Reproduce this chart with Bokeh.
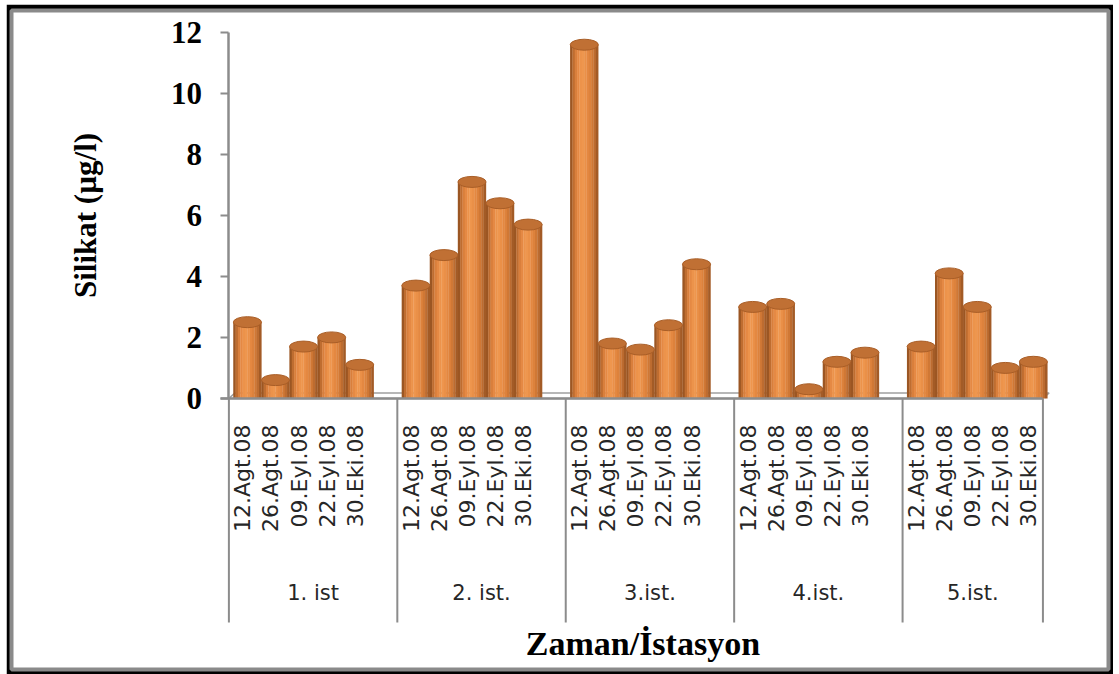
import math

from bokeh.core.properties import value
from bokeh.embed import file_html
from bokeh.models import FixedTicker, LinearAxis, Range1d
from bokeh.plotting import figure
from bokeh.resources import INLINE

# --- data -------------------------------------------------------------
stations = ["1. ist", "2. ist.", "3.ist.", "4.ist.", "5.ist."]
dates = ["12.Agt.08", "26.Agt.08", "09.Eyl.08", "22.Eyl.08", "30.Eki.08"]
ist1 = [2.5, 0.6, 1.7, 2.0, 1.1]
ist2 = [3.7, 4.7, 7.1, 6.4, 5.7]
ist3 = [11.6, 1.8, 1.6, 2.4, 4.4]
ist4 = [3.0, 3.1, 0.3, 1.2, 1.5]
ist5 = [1.7, 4.1, 3.0, 1.0, 1.2]
y_ticks = [0, 2, 4, 6, 8, 10, 12]

series = [ist1, ist2, ist3, ist4, ist5]

# --- slot layout: one slot per date, every station block but the last
# closes with an empty slot ---------------------------------------------
tick_pos, tick_lab, group_mid, group_edges = [], [], [], []
pos = 0
for i, st in enumerate(stations):
    group_edges.append(pos)
    start = pos
    for d in dates:
        tick_pos.append(pos + 0.5)
        tick_lab.append(d)
        pos += 1
    if i < len(stations) - 1:
        pos += 1
    group_mid.append((start + pos) / 2)
group_edges.append(pos)
n_slots = pos

bar_x = tick_pos
bar_top = [v for vals in series for v in vals]

# --- canvas geometry (pixels) -------------------------------------------
W, H = 1107, 670
MB_L, MB_R, MB_T, MB_B = 5, 5, 6, 5
frame_w = W - MB_L - MB_R
frame_h = H - MB_T - MB_B
slot_px = 28.07          # width of one slot
val_px = 30.49           # height of one unit of silicate
origin_x = 217.4         # frame left -> first slot edge
origin_y = 387.9         # frame top -> zero line

x_start = -origin_x / slot_px
y_end = origin_y / val_px

GRAY = "#8c8c8c"
SERIF = "Liberation Serif"
SANS = "DejaVu Sans"

p = figure(
    x_range=Range1d(x_start, x_start + frame_w / slot_px),
    y_range=Range1d(y_end - frame_h / val_px, y_end),
    width=W, height=H, margin=(4, 0, 0, 6),
    output_backend="svg", toolbar_location=None,
    x_axis_type=None, y_axis_type=None,
    min_border_left=MB_L, min_border_right=MB_R,
    min_border_top=MB_T, min_border_bottom=MB_B,
    border_fill_color="#000000", background_fill_color="#ffffff",
    outline_line_color="#8a8a8a", outline_line_width=4,
)

# floor of the 3-D box
depth_dx, depth_dy = 0.22, 0.18
p.patch(x=[0, n_slots, n_slots + depth_dx, depth_dx],
        y=[0, 0, depth_dy, depth_dy],
        fill_color="#ffffff", line_color="#a0a0a0", line_width=1.5)

# cylinder bodies: vertical strips shaded from the dark rims to the highlight
shade = ["#9b5623", "#bf6d30", "#d97f3c", "#e58944", "#ec934b", "#ee964e",
         "#ea9048", "#e48841", "#dd823c", "#d07835", "#bd6c30", "#a35b26"]
shift = 0.16
n_strip = len(shade)
for k, col in enumerate(shade):
    off = shift + (k + 0.5) / n_strip - 0.5
    p.vbar(x=[bx + off for bx in bar_x], top=bar_top, bottom=0,
           width=1.0 / n_strip + 0.01, fill_color=col, line_color=None)

# cylinder caps
p.ellipse(x=[bx + shift for bx in bar_x], y=bar_top,
          width=1.0, height=11, height_units="screen",
          fill_color="#c07034", line_color="#a95e27", line_width=1)

# vertical separators of the station blocks
p.segment(x0=group_edges, y0=0, x1=group_edges, y1=-7.35,
          line_color=GRAY, line_width=2)

# station names
p.text(x=group_mid, y=-6.37, text=stations, text_align="center",
       text_baseline="middle", text_font=value(SANS),
       text_font_size=value("21px"), text_color="#262626")

# axes
yaxis = LinearAxis(
    fixed_location=0, bounds=(0, 12), ticker=FixedTicker(ticks=y_ticks),
    axis_line_color=GRAY, axis_line_width=2.5,
    major_tick_out=8, major_tick_in=0, major_tick_line_color=GRAY,
    major_tick_line_width=2, minor_tick_line_color=None,
    major_label_standoff=19, major_label_text_font=SERIF,
    major_label_text_font_style="bold", major_label_text_font_size="31px",
    major_label_text_color="#000000",
)
p.add_layout(yaxis, "left")

xaxis = LinearAxis(
    fixed_location=0, bounds=(-0.3, n_slots),
    ticker=FixedTicker(ticks=tick_pos),
    major_label_overrides=dict(zip(tick_pos, tick_lab)),
    axis_line_color=GRAY, axis_line_width=2.5,
    major_tick_out=0, major_tick_in=0, major_tick_line_color=None,
    minor_tick_line_color=None,
    major_label_orientation=math.pi / 2, major_label_standoff=26,
    major_label_text_font=SANS, major_label_text_font_size="22px",
    major_label_text_color="#262626",
)
p.add_layout(xaxis, "below")

# axis titles
p.text(x=[0], y=[6], x_offset=-143, text=["Silikat (µg/l)"],
       angle=math.pi / 2, text_align="center", text_baseline="middle",
       text_font=value(SERIF), text_font_style="bold",
       text_font_size=value("31px"), text_color="#000000")
p.text(x=[n_slots / 2], y=[-8.05], x_offset=7, text=["Zaman/İstasyon"],
       text_align="center", text_baseline="middle",
       text_font=value(SERIF), text_font_style="bold",
       text_font_size=value("34px"), text_color="#000000")

with open("out.html", "w") as f:
    f.write(file_html(p, INLINE))
